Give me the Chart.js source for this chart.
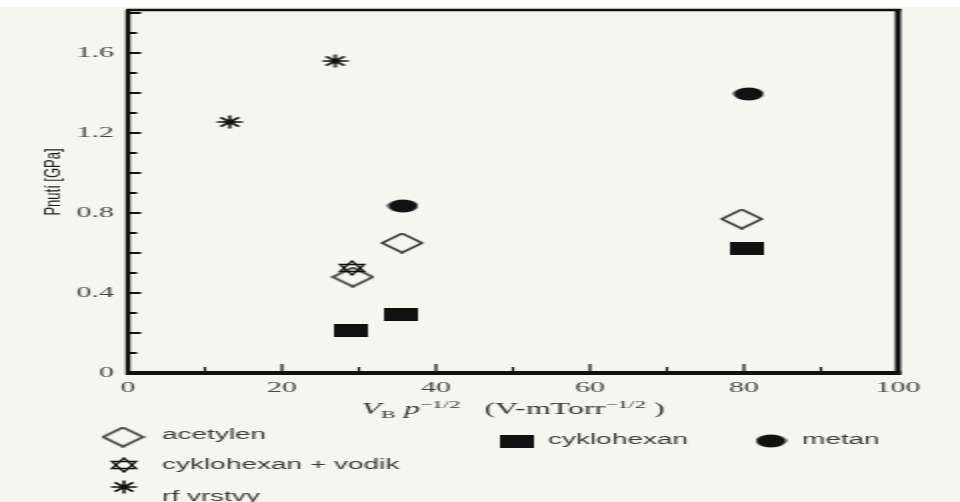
<!DOCTYPE html>
<html>
<head>
<meta charset="utf-8">
<script src="https://cdn.jsdelivr.net/npm/chart.js@4.4.1/dist/chart.umd.min.js"></script>
<style>
html, body { margin: 0; padding: 0; background: #fff; overflow: hidden; }
#c { display: block; }
</style>
</head>
<body>
<!-- drawn at half width and stretched, like the scanned original -->
<canvas id="c" width="480" height="502" style="width:960px;height:502px"></canvas>
<script>
// values
const acetylenX = [29.2, 35.6, 79.7];
const acetylenY = [0.48, 0.65, 0.77];
const hexVodikX = [29.1];
const hexVodikY = [0.525];
const rfX = [13.2, 26.9];
const rfY = [1.255, 1.56];
const hexanX = [29.0, 35.5, 80.3];
const hexanY = [0.215, 0.295, 0.625];
const metanX = [35.7, 80.6];
const metanY = [0.835, 1.395];

const xTicks = [0, 10, 20, 30, 40, 50, 60, 70, 80, 90, 100];
const xLabels = [0, 20, 40, 60, 80, 100];
const yTicks = [0, 0.1, 0.2, 0.3, 0.4, 0.5, 0.6, 0.7, 0.8, 0.9, 1.0, 1.1, 1.2, 1.3, 1.4, 1.5, 1.6, 1.7, 1.8];
const yLabels = [0, 0.4, 0.8, 1.2, 1.6];
const yTitle = 'Pnutí [GPa]';

const BG = '#f6f6f0';
const INK = '#111';

function icon(w, h, draw) {
    let c = document.createElement('canvas');
    c.width = w;
    c.height = h;
    let g = c.getContext('2d');
    g.strokeStyle = INK;
    g.fillStyle = INK;
    draw(g, w, h);
    return c;
}

const diamond = icon(22, 21, (g, w, h) => {
    g.lineWidth = 1.4;
    g.beginPath();
    g.moveTo(w / 2, 1); g.lineTo(w - 1, h / 2); g.lineTo(w / 2, h - 1); g.lineTo(1, h / 2);
    g.closePath();
    g.stroke();
});
const square = icon(17, 13, (g, w, h) => { g.fillRect(0, 0, w, h); });
const disc = icon(16, 14, (g, w, h) => {
    g.beginPath();
    g.ellipse(w / 2, h / 2, w / 2 - 0.5, h / 2 - 0.5, 0, 0, Math.PI * 2);
    g.fill();
});
const hexagram = icon(16, 16, (g, w, h) => {
    g.lineWidth = 1.3;
    let cx = w / 2, cy = h / 2, r = 7;
    [-Math.PI / 2, Math.PI / 2].forEach(a0 => {
        g.beginPath();
        for (let i = 0; i < 3; i++) {
            let a = a0 + i * Math.PI * 2 / 3;
            let px = cx + r * Math.cos(a), py = cy + r * Math.sin(a);
            i ? g.lineTo(px, py) : g.moveTo(px, py);
        }
        g.closePath();
        g.stroke();
    });
});
const asterisk = icon(14, 14, (g, w, h) => {
    g.lineWidth = 1.5;
    let cx = w / 2, cy = h / 2;
    for (let i = 0; i < 4; i++) {
        let a = i * Math.PI / 4;
        g.beginPath();
        g.moveTo(cx - 6.5 * Math.cos(a), cy - 6.5 * Math.sin(a));
        g.lineTo(cx + 6.5 * Math.cos(a), cy + 6.5 * Math.sin(a));
        g.stroke();
    }
    g.beginPath();
    g.arc(cx, cy, 2.5, 0, Math.PI * 2);
    g.fill();
});

function pts(xs, ys) {
    return xs.map((x, i) => ({ x: x, y: ys[i] }));
}

// where the legend entries sit (chart units)
const legendPos = [
    { ix: 61.5, iy: 437, tx: 81, ty: 435 },
    { ix: 62, iy: 465, tx: 81, ty: 465 },
    { ix: 62, iy: 487, tx: 81, ty: 497 },
    { ix: 258, iy: 441, tx: 274, ty: 440 },
    { ix: 385.5, iy: 441, tx: 401, ty: 440 }
];

const paperPlugin = {
    id: 'paper',
    beforeDraw(chart) {
        let ctx = chart.ctx;
        ctx.save();
        ctx.fillStyle = '#fff';
        ctx.fillRect(0, 0, chart.width, chart.height);
        ctx.fillStyle = BG;
        ctx.fillRect(0, 7, chart.width, chart.height - 7);
        ctx.restore();
    },
    afterDraw(chart) {
        let ctx = chart.ctx;
        let a = chart.chartArea;
        let xs = chart.scales.x, ys = chart.scales.y;
        ctx.save();
        ctx.strokeStyle = INK;

        // inward ticks
        ctx.lineWidth = 2;
        yTicks.forEach(v => {
            let py = ys.getPixelForValue(v);
            let len = Math.round(v * 10) % 2 === 0 ? 6.5 : 4.5;
            ctx.beginPath();
            ctx.moveTo(a.left, py);
            ctx.lineTo(a.left + len, py);
            ctx.stroke();
        });
        ctx.lineWidth = 1.2;
        xTicks.forEach(v => {
            let px = xs.getPixelForValue(v);
            let len = v % 20 === 0 ? 9 : 6;
            ctx.beginPath();
            ctx.moveTo(px, a.bottom);
            ctx.lineTo(px, a.bottom - len);
            ctx.stroke();
        });

        // frame
        ctx.lineWidth = 2.5;
        ctx.beginPath(); ctx.moveTo(a.left, a.top); ctx.lineTo(a.left, a.bottom + 2); ctx.stroke();
        ctx.lineWidth = 3;
        ctx.beginPath(); ctx.moveTo(a.right, a.top - 1); ctx.lineTo(a.right, a.bottom + 2); ctx.stroke();
        ctx.lineWidth = 2.5;
        ctx.beginPath(); ctx.moveTo(a.left - 1, a.top); ctx.lineTo(a.right + 1.5, a.top); ctx.stroke();
        ctx.lineWidth = 4;
        ctx.beginPath(); ctx.moveTo(a.left - 1, a.bottom); ctx.lineTo(a.right + 1.5, a.bottom); ctx.stroke();

        // y title, narrow and rotated
        ctx.save();
        ctx.translate(27, 182);
        ctx.rotate(-Math.PI / 2);
        ctx.scale(1.3, 1);
        ctx.font = '10px "Liberation Sans"';
        ctx.fillStyle = '#222';
        ctx.textAlign = 'center';
        ctx.textBaseline = 'middle';
        ctx.fillText(yTitle, 0, 0);
        ctx.restore();

        // x title with sub/superscripts
        let parts = [
            { t: 'V', f: 'italic 16px "Liberation Serif"', dy: 0 },
            { t: 'B', f: '11px "Liberation Serif"', dy: 4 },
            { t: ' ', f: '16px "Liberation Serif"', dy: 0 },
            { t: 'p', f: 'italic 16px "Liberation Serif"', dy: 0 },
            { t: '\u22121/2', f: '11px "Liberation Serif"', dy: -6 },
            { t: '   (V-mTorr', f: '16px "Liberation Serif"', dy: 0 },
            { t: '\u22121/2', f: '11px "Liberation Serif"', dy: -6 },
            { t: ' )', f: '16px "Liberation Serif"', dy: 0 }
        ];
        let total = 0;
        parts.forEach(p => { ctx.font = p.f; p.w = ctx.measureText(p.t).width; total += p.w; });
        let x = (a.left + a.right) / 2 - total / 2;
        ctx.fillStyle = '#333';
        ctx.textBaseline = 'alphabetic';
        parts.forEach(p => {
            ctx.font = p.f;
            ctx.fillText(p.t, x, 414 + p.dy);
            x += p.w;
        });

        // legend
        ctx.font = '14px "Liberation Sans"';
        ctx.textBaseline = 'middle';
        ctx.fillStyle = '#3a3a3a';
        chart.data.datasets.forEach((ds, i) => {
            let p = legendPos[i];
            let im = ds.pointStyle;
            ctx.drawImage(im, p.ix - im.width / 2, p.iy - im.height / 2);
            ctx.fillText(ds.label, p.tx, p.ty);
        });
        ctx.restore();
    }
};

new Chart(document.getElementById('c'), {
    type: 'scatter',
    data: {
        datasets: [
            { label: 'acetylen', data: pts(acetylenX, acetylenY), pointStyle: diamond },
            { label: 'cyklohexan + vodik', data: pts(hexVodikX, hexVodikY), pointStyle: hexagram },
            { label: 'rf vrstvy', data: pts(rfX, rfY), pointStyle: asterisk },
            { label: 'cyklohexan', data: pts(hexanX, hexanY), pointStyle: square },
            { label: 'metan', data: pts(metanX, metanY), pointStyle: disc }
        ]
    },
    options: {
        responsive: false,
        animation: false,
        devicePixelRatio: 1,
        layout: { padding: { left: 0, top: 10, right: 31, bottom: 0 } },
        plugins: {
            legend: { display: false },
            tooltip: { enabled: false }
        },
        scales: {
            x: {
                type: 'linear',
                min: 0,
                max: 100,
                afterBuildTicks: s => { s.ticks = xLabels.map(v => ({ value: v })); },
                afterFit: s => {
                    s.height = 129;
                    s.paddingLeft = 0;
                    s.paddingRight = 0;
                },
                grid: { display: false, drawTicks: false },
                border: { display: false },
                ticks: {
                    padding: 6,
                    maxRotation: 0,
                    autoSkip: false,
                    color: '#444',
                    font: { family: '"Liberation Serif"', size: 15 }
                }
            },
            y: {
                type: 'linear',
                min: 0,
                max: 1.815,
                afterBuildTicks: s => { s.ticks = yLabels.map(v => ({ value: v })); },
                afterFit: s => {
                    s.width = 64;
                    s.paddingTop = 0;
                    s.paddingBottom = 0;
                },
                grid: { display: false, drawTicks: false },
                border: { display: false },
                ticks: {
                    padding: 7,
                    autoSkip: false,
                    color: '#444',
                    font: { family: '"Liberation Serif"', size: 15 },
                    callback: v => v === 0 ? '0' : v.toFixed(1)
                }
            }
        }
    },
    plugins: [paperPlugin]
});
</script>
</body>
</html>
